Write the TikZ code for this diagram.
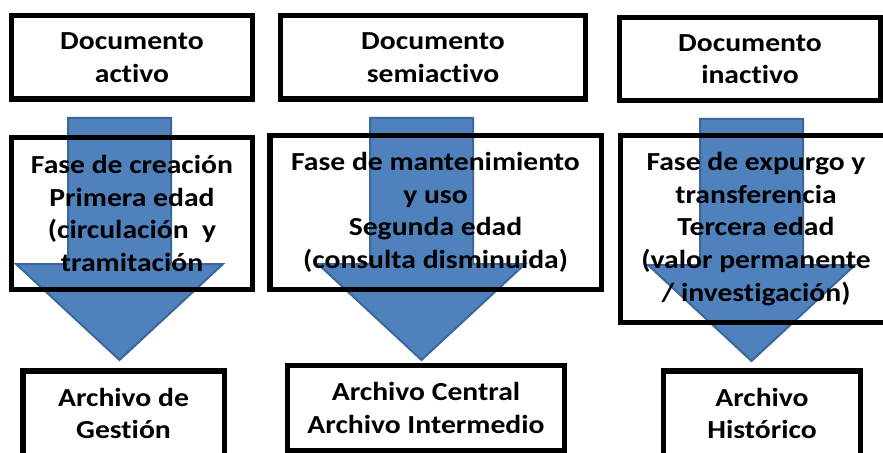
\documentclass[tikz,border=0pt]{standalone}
\usepackage{fontspec}
\setmainfont{Carlito}[FakeStretch=1.14, Ligatures=CommonOff]
\definecolor{arrowfill}{HTML}{4F81BD}
\definecolor{arrowline}{HTML}{3A679C}
\begin{document}
\begin{tikzpicture}[x=0.75pt,y=-0.75pt,
  box/.style={draw=black, line width=4.1pt, align=center, inner sep=0pt,
    font=\bfseries\fontsize{19.5}{24.5}\selectfont, text=black},
  blockarrow/.style={fill=arrowfill, draw=arrowline, line width=1.5pt, line join=miter},
  downarrow/.pic={\draw[blockarrow] (-51.5,0) -- (-51.5,146) -- (-103.5,146) -- (0,242)
      -- (103.5,146) -- (51.5,146) -- (51.5,0) -- cycle;}]
\clip (0,0) rectangle (883,453);
\fill[white] (0,0) rectangle (883,453);
% arrow anchors
\coordinate (arr1) at (119.5,118);
\coordinate (arr2) at (421.5,118);
\coordinate (arr3) at (751.5,119);
\pic at (arr1) {downarrow};
\pic at (arr2) {downarrow};
\pic at (arr3) {downarrow};
% top row
\node[box, minimum width=180.4pt, minimum height=62.6pt] (top1) at (132,57.5) {Documento\\activo};
\node[box, minimum width=228.4pt, minimum height=62.6pt] (top2) at (433,57.5) {Documento\\semiactivo};
\node[box, minimum width=195.4pt, minimum height=61.9pt] (top3) at (750,59) {Documento\\inactivo};
% middle row
\node[box, minimum width=180.4pt, minimum height=113.6pt] (mid1) at (132,213.5)
  {Fase de creación\\Primera edad\\(circulación~ y\\tramitación};
\node[box, minimum width=248.6pt, minimum height=115.1pt] (mid2) at (435.5,212.5)
  {Fase de mantenimiento\\y uso\\Segunda edad\\(consulta disminuida)};
\node[box, minimum width=202.9pt, minimum height=139.9pt] (mid3) at (756,229)
  {Fase de expurgo y\\transferencia\\Tercera edad\\(valor permanente\\/ investigación)};
% bottom row
\node[box, minimum width=151.1pt, minimum height=63.9pt] (bot1) at (123.5,413.4) {Archivo de\\Gestión};
\node[box, minimum width=207.4pt, minimum height=63.4pt] (bot2) at (426,408) {Archivo Central\\Archivo Intermedio};
\node[box, minimum width=147.4pt, minimum height=63.9pt] (bot3) at (762,413.4) {Archivo\\Histórico};
\end{tikzpicture}
\end{document}
